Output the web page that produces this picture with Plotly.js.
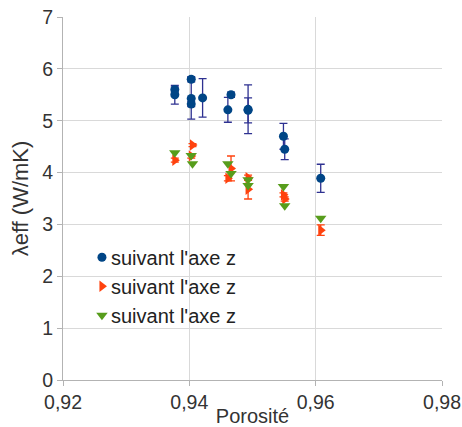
<!DOCTYPE html>
<html><head><meta charset="utf-8">
<script src="https://cdn.plot.ly/plotly-3.0.1.min.js"></script>
<style>html,body{margin:0;padding:0;background:#fff}#chart{width:462px;height:427px}</style>
</head><body><div id="chart"></div>
<script>
var seriesName = "suivant l'axe z";
var blueX = [0.9377,0.9377,0.9403,0.9403,0.9403,0.9421,0.9461,0.9466,0.9493,0.9493,0.9549,0.9551,0.9608];
var blueY = [5.60,5.50,5.80,5.43,5.32,5.44,5.21,5.50,5.22,5.20,4.70,4.45,3.89];
var blueErr = [0.05,0.18,0.05,0.40,0.05,0.37,0.24,0.05,0.47,0.24,0.25,0.20,0.27];
var orangeX = [0.9377,0.9405,0.9403,0.9466,0.9461,0.9493,0.9493,0.9549,0.9551,0.9608];
var orangeY = [4.24,4.53,4.32,4.08,3.89,3.90,3.68,3.57,3.49,2.89];
var orangeErr = [0.04,0.03,0.04,0.24,0.05,0.05,0.19,0.04,0.04,0.10];
var greenX = [0.9377,0.9403,0.9405,0.9461,0.9466,0.9493,0.9493,0.9549,0.9551,0.9608];
var greenY = [4.38,4.33,4.17,4.17,3.98,3.86,3.75,3.73,3.36,3.12];
var xTicks = [0.92,0.94,0.96,0.98];
var xTickText = ["0,92","0,94","0,96","0,98"];
var yTicks = [0,1,2,3,4,5,6,7];

var traces = [
 {x: blueX, y: blueY, name: seriesName, type:'scatter', mode:'markers',
  marker:{symbol:'circle', size:9, color:'#004586'},
  error_y:{type:'data', array: blueErr, visible:true, color:'#2e3191', thickness:1.3, width:4}},
 {x: orangeX, y: orangeY, name: seriesName, type:'scatter', mode:'markers',
  marker:{symbol:'triangle-right', size:10, color:'#ff420e'},
  error_y:{type:'data', array: orangeErr, visible:true, color:'#ff420e', thickness:1.3, width:4}},
 {x: greenX, y: greenY, name: seriesName, type:'scatter', mode:'markers',
  marker:{symbol:'triangle-down', size:10, color:'#579d1c'}}
];
var layout = {
 width:462, height:427,
 margin:{l:63, r:20, t:17, b:47},
 paper_bgcolor:'#fff', plot_bgcolor:'#fff',
 font:{family:'Liberation Sans, Arial, sans-serif', size:19, color:'#333'},
 showlegend:true,
 legend:{x:0.05, y:0.392, xanchor:'left', yanchor:'top', bgcolor:'rgba(0,0,0,0)',
   font:{size:20, color:'#222'}, tracegroupgap:0, itemwidth:30},
 xaxis:{range:[0.92,0.98], tickvals:xTicks, ticktext:xTickText,
   showgrid:true, gridcolor:'#d9d9d9', zeroline:false,
   showline:true, linecolor:'#b3b3b3', ticks:'outside', ticklen:5, tickcolor:'#b3b3b3',
   tickfont:{size:19.5, color:'#333'},
   title:{text:'Porosité', font:{size:20, color:'#333'}, standoff:0}},
 yaxis:{range:[0,7], tickvals:yTicks,
   showgrid:true, gridcolor:'#d9d9d9', zeroline:false,
   showline:true, linecolor:'#b3b3b3', ticks:'outside', ticklen:5, tickcolor:'#b3b3b3',
   tickfont:{size:19.5, color:'#333'},
   title:{text:'λeff (W/mK)', font:{size:22, color:'#333'}, standoff:7}}
};
Plotly.newPlot('chart', traces, layout, {displayModeBar:false, staticPlot:true}).then(function(){
  document.querySelectorAll('#chart .legendtext').forEach(function(t){ t.setAttribute('x', '29'); });
});
</script></body></html>
